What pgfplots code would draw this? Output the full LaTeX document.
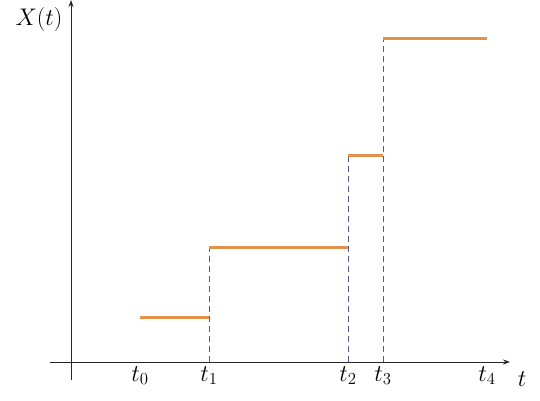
\documentclass[border=0pt]{standalone}
\usepackage{fix-cm}
\usepackage{pgfplots}
\pgfplotsset{compat=1.18}
\usetikzlibrary{arrows.meta}
\definecolor{stepor}{RGB}{228,145,75}
\definecolor{dashbl}{RGB}{85,85,160}
\begin{document}
\begin{tikzpicture}[x=1pt,y=1pt]
\path[use as bounding box] (0,0) rectangle (540,400);
\begin{axis}[
  at={(50pt,20pt)}, anchor=south west,
  scale only axis, width=460pt, height=380pt,
  xmin=-21, xmax=439, ymin=-18, ymax=362,
  axis lines=middle,
  axis line style={line width=0.9pt, black!85, -{Stealth[length=7pt,width=5pt]}},
  xtick={69,138,277,312,416},
  xticklabels={$t_0$,$t_1$,$t_2$,$t_3$,$t_4$},
  ytick=\empty,
  major tick length=0pt,
  xticklabel style={anchor=base, yshift=-19pt, font=\fontsize{24}{28}\selectfont},
  clip=false,
]
\addplot[dashbl, line width=1pt, dash pattern=on 6pt off 4pt] coordinates {(138,0) (138,115)};
\addplot[dashbl, line width=1pt, dash pattern=on 6pt off 4pt] coordinates {(277,0) (277,207)};
\addplot[dashbl, line width=1pt, dash pattern=on 6pt off 4pt] coordinates {(312,0) (312,323)};
\addplot[stepor, line width=3pt] coordinates {(69,45) (138,45)};
\addplot[stepor, line width=3pt] coordinates {(138,115) (277,115)};
\addplot[stepor, line width=3pt] coordinates {(277,207) (312,207)};
\addplot[stepor, line width=3pt] coordinates {(312,323) (416,323)};
\node[anchor=base, font=\fontsize{24}{28}\selectfont] at (axis cs:451,-24) {$t$};
\node[anchor=base, font=\fontsize{24}{28}\selectfont] at (axis cs:-32,336) {$X(t)$};
\end{axis}
\end{tikzpicture}
\end{document}
